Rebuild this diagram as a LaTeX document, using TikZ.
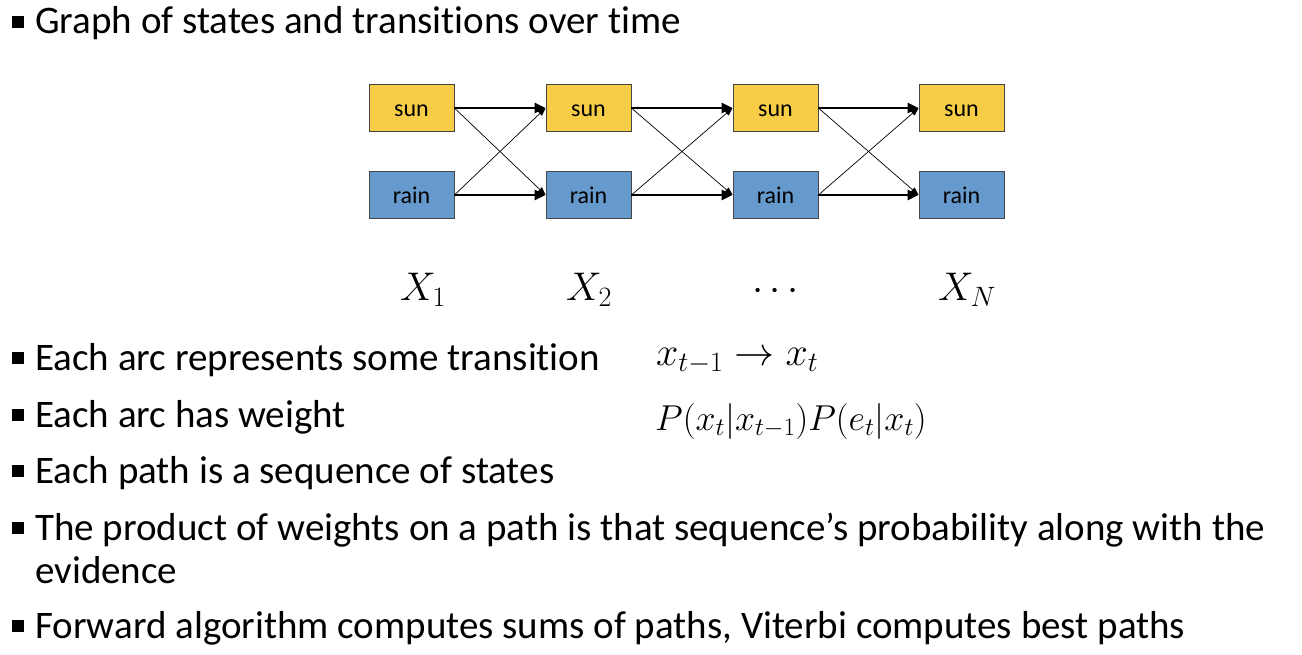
\RequirePackage{fix-cm}
\documentclass[tikz,border=0pt]{standalone}
\usepackage{fontspec}
\setmainfont{Carlito}[Ligatures={NoCommon,NoDiscretionary}]
\usetikzlibrary{arrows.meta}
\definecolor{sunfill}{RGB}{247,204,70}
\definecolor{rainfill}{RGB}{102,153,204}
\definecolor{boxline}{RGB}{70,70,70}
\newcommand{\blt}{\makebox[23pt][l]{\raisebox{6pt}{\rule{12pt}{12pt}}}}

\begin{document}
\begin{tikzpicture}[x=1pt,y=-1pt]
		\tikzstyle{every node}+=[inner sep=0pt]
		\tikzstyle{sunbox}=[draw=boxline,line width=0.8pt,fill=sunfill,minimum width=85pt,minimum height=47pt,text height=18pt,text depth=2pt,font=\fontsize{24}{24}\selectfont]
		\tikzstyle{rainbox}=[sunbox,fill=rainfill]
		\tikzstyle{keep}=[line width=2.5pt,-{Triangle[length=11pt,width=10pt]}]
		\tikzstyle{switch}=[line width=0.7pt,-{Triangle[length=8pt,width=6pt]}]
		\tikzstyle{item}=[anchor=base west,font=\fontsize{39}{43}\selectfont]
		\tikzstyle{mathlabel}=[anchor=base west,font=\fontsize{40}{40}\selectfont]
		\useasboundingbox (0,0) rectangle (1302,654);
		% states
		\node [sunbox] (s1) at (411.5,108) {sun};
		\node [rainbox] (r1) at (411.5,195) {rain};
		\node [sunbox] (s2) at (588.5,108) {sun};
		\node [rainbox] (r2) at (588.5,195) {rain};
		\node [sunbox] (s3) at (775.5,108) {sun};
		\node [rainbox] (r3) at (775.5,195) {rain};
		\node [sunbox] (s4) at (961.5,108) {sun};
		\node [rainbox] (r4) at (961.5,195) {rain};
		% transitions
		\draw [switch] (s1.east) -- (r2.west);
		\draw [switch] (r1.east) -- (s2.west);
		\draw [switch] (s2.east) -- (r3.west);
		\draw [switch] (r2.east) -- (s3.west);
		\draw [switch] (s3.east) -- (r4.west);
		\draw [switch] (r3.east) -- (s4.west);
		\draw [keep] (s1) -- (s2);
		\draw [keep] (r1) -- (r2);
		\draw [keep] (s2) -- (s3);
		\draw [keep] (r2) -- (r3);
		\draw [keep] (s3) -- (s4);
		\draw [keep] (r3) -- (r4);
		% time steps
		\node [mathlabel] (t1) at (400,300) {$X_1$};
		\node [mathlabel] (t2) at (566,300) {$X_2$};
		\node [mathlabel] (tdots) at (752,300) {$\cdots$};
		\node [mathlabel] (tn) at (938,300) {$X_N$};
		% bullets
		\node [item] (graph) at (12,33.5) {\blt Graph of states and transitions over time};
		\node [item] (arc) at (12,370) {\blt Each arc represents some transition};
		\node [item] (weight) at (12,427) {\blt Each arc has weight};
		\node [item] (path) at (12,483) {\blt Each path is a sequence of states};
		\node [item] (product) at (12,540) {\blt The product of weights on a path is that sequence’s probability along with the};
		\node [item] (evidence) at (35,583) {evidence};
		\node [item] (viterbi) at (12,638) {\blt Forward algorithm computes sums of paths, Viterbi computes best paths};
		% formulas
		\node [mathlabel] (trans) at (656,365) {$x_{t-1} \rightarrow x_t$};
		\node [mathlabel,font=\fontsize{36}{36}\selectfont] (prob) at (655,430) {$P(x_t|x_{t-1})P(e_t|x_t)$};
	\end{tikzpicture}
\end{document}
